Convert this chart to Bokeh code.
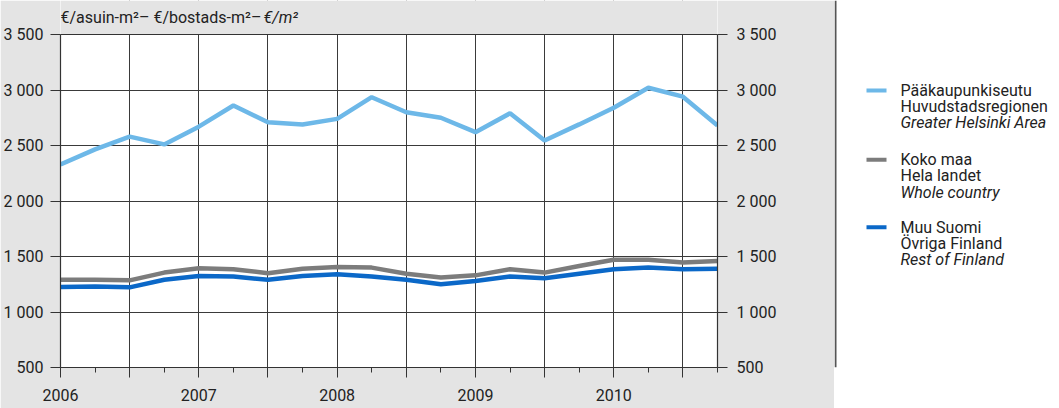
from bokeh.plotting import figure
from bokeh.models import Range1d, FixedTicker, LinearAxis, ColumnDataSource, Span
from bokeh.layouts import row
from bokeh.embed import file_html
from bokeh.resources import INLINE
from bokeh.core.properties import value

# ---------------- data ----------------
years = [2006, 2007, 2008, 2009, 2010]
quarters = [1, 2, 3, 4]
period_x = [y + (q - 1) / 4 for y in years for q in quarters]

helsinki = [2330, 2465, 2580, 2510, 2670, 2860, 2710, 2690, 2740, 2935,
            2800, 2750, 2620, 2790, 2545, 2690, 2840, 3020, 2940, 2680]
whole_country = [1290, 1290, 1285, 1355, 1395, 1385, 1350, 1390, 1405, 1400,
                 1345, 1310, 1330, 1385, 1355, 1415, 1470, 1470, 1445, 1460]
rest_of_finland = [1225, 1230, 1222, 1290, 1325, 1320, 1290, 1325, 1340, 1320,
                   1290, 1250, 1280, 1320, 1305, 1345, 1385, 1400, 1385, 1390]

y_ticks = [500, 1000, 1500, 2000, 2500, 3000, 3500]
y_labels = ["500", "1 000", "1 500", "2 000", "2 500", "3 000", "3 500"]
x_labels = ["2006", "2007", "2008", "2009", "2010"]

title_normal = "€/asuin-m²– €/bostads-m²– "
title_italic = "€/m²"

legend_lines = [
    ["Pääkaupunkiseutu", "Huvudstadsregionen", "Greater Helsinki Area"],
    ["Koko maa", "Hela landet", "Whole country"],
    ["Muu Suomi", "Övriga Finland", "Rest of Finland"],
]
series_colors = ["#6db8e8", "#7c7c7c", "#0b68c8"]

FONT = "Roboto"
TXT = "#222222"
BG = "#e4e4e4"

# ---------------- chart ----------------
Y_MIN, Y_MAX = 500, 3500
PX_PER_UNIT = 333 / 3000.0            # frame scale: 3000 units over 333 px
Y_TOP = Y_MAX + 34 / PX_PER_UNIT       # extra headroom for the unit title

p = figure(width=834, height=408,
           x_range=Range1d(2006, 2010.75), y_range=Range1d(Y_MIN, Y_TOP),
           output_backend="svg", toolbar_location=None,
           min_border_left=60, min_border_right=117,
           min_border_top=0, min_border_bottom=41,
           background_fill_color="white", border_fill_color=BG,
           outline_line_color=None)

half_years = [y + h / 2 for y in years for h in (0, 1)]
x_ticker = FixedTicker(ticks=half_years, minor_ticks=period_x)
y_ticker = FixedTicker(ticks=y_ticks)

x_over = {}
for hy in half_years:
    x_over[hy] = x_labels[years.index(int(hy))] if hy == int(hy) else ""
y_over = {t: l for t, l in zip(y_ticks, y_labels)}

xa = p.xaxis[0]
xa.ticker = x_ticker
xa.major_label_overrides = x_over
xa.major_tick_in = 0
xa.major_tick_out = 10
xa.minor_tick_in = 0
xa.minor_tick_out = 5
xa.major_label_standoff = 11

ya = p.yaxis[0]
ya.ticker = y_ticker
ya.major_label_overrides = y_over
ya.major_tick_in = 0
ya.major_tick_out = 10
ya.major_label_standoff = 7
ya.bounds = (Y_MIN, Y_MAX)

ra = LinearAxis(ticker=y_ticker, major_label_overrides=y_over, bounds=(Y_MIN, Y_MAX))
ra.major_tick_in = 0
ra.major_tick_out = 10
ra.major_label_standoff = 9
p.add_layout(ra, "right")

for ax in [xa, ya, ra]:
    ax.axis_line_color = "#333333"
    ax.axis_line_width = 1.2
    ax.major_tick_line_color = "#333333"
    ax.minor_tick_line_color = "#333333" if ax is xa else None
    ax.major_label_text_font = FONT
    ax.major_label_text_font_size = "16px"
    ax.major_label_text_color = TXT

p.xgrid.ticker = FixedTicker(ticks=half_years)
p.ygrid.ticker = y_ticker
for g in [p.xgrid[0], p.ygrid[0]]:
    g.grid_line_color = "#3a3a3a"
    g.grid_line_width = 1
    g.grid_line_alpha = 1.0

# grey cover over the headroom above the 3 500 line (title band)
p.quad(left=[2006], right=[2010.75], bottom=[Y_MAX], top=[Y_TOP],
       fill_color=BG, line_color=None)
p.add_layout(Span(location=Y_MAX, dimension="width", line_color="#333333", line_width=1.2))

src = ColumnDataSource(dict(x=period_x, hel=helsinki, whole=whole_country, rest=rest_of_finland))
p.line("x", "rest", source=src, line_color=series_colors[2], line_width=4.5)
p.line("x", "whole", source=src, line_color=series_colors[1], line_width=4.5)
p.line("x", "hel", source=src, line_color=series_colors[0], line_width=4.5)

title_y = Y_MAX + 17 / PX_PER_UNIT
p.text(x=[2006], y=[title_y], text=[title_normal], text_font=value(FONT),
       text_font_size="16px", text_color=TXT, text_baseline="middle", text_align="left")
p.text(x=[2006 + 203 / 138.3], y=[title_y], text=[title_italic], text_font=value(FONT),
       text_font_size="16px", text_font_style="italic", text_color=TXT,
       text_baseline="middle", text_align="left")

# ---------------- legend panel ----------------
q = figure(width=225, height=408, x_range=Range1d(0, 225), y_range=Range1d(408, 0),
           output_backend="svg", toolbar_location=None,
           x_axis_location=None, y_axis_location=None,
           min_border=0, min_border_left=0, min_border_right=0,
           min_border_top=0, min_border_bottom=0,
           background_fill_color="white", border_fill_color="white",
           outline_line_color=None)
q.grid.visible = False
q.segment(x0=[1], y0=[0], x1=[1], y1=[408], line_color="#555555", line_width=2)

item_top = [100, 177, 252]
line_gap = 18
for i, lines in enumerate(legend_lines):
    y0 = item_top[i]
    q.segment(x0=[32], y0=[y0], x1=[52], y1=[y0], line_color=series_colors[i], line_width=4)
    q.text(x=[66, 66], y=[y0, y0 + line_gap], text=lines[:2],
           text_font=value(FONT), text_font_size="16px", text_color=TXT,
           text_baseline="middle", text_align="left")
    q.text(x=[66], y=[y0 + 2 * line_gap], text=lines[2:],
           text_font=value(FONT), text_font_size="16px", text_font_style="italic",
           text_color=TXT, text_baseline="middle", text_align="left")

layout = row(p, q, spacing=0)
open("out.html", "w").write(file_html(layout, INLINE))
